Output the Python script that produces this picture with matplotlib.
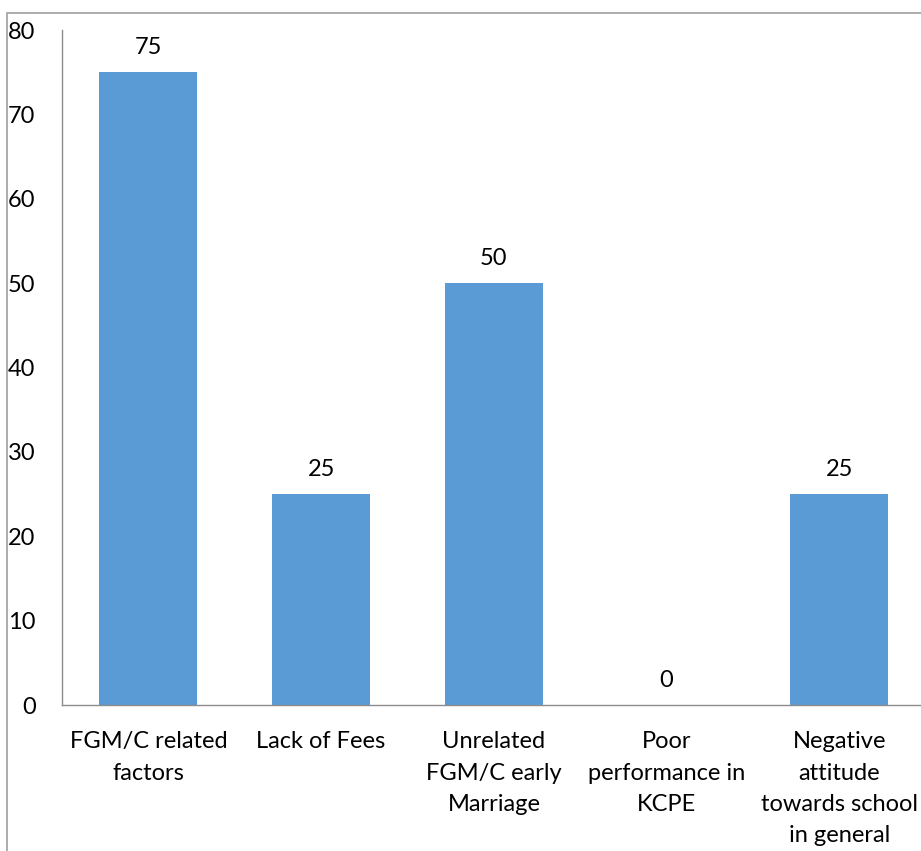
import matplotlib.pyplot as plt
from matplotlib.patches import Rectangle

# Données
categories = ['FGM/C related\nfactors', 'Lack of Fees', 'Unrelated\nFGM/C early\nMarriage',
              'Poor\nperformance in\nKCPE', 'Negative\nattitude\ntowards school\nin general']
valeurs = [75, 25, 50, 0, 25]
yticks = [0, 10, 20, 30, 40, 50, 60, 70, 80]

plt.rcParams['font.family'] = ['Lato', 'DejaVu Sans']

fig = plt.figure(figsize=(9.21, 8.51), dpi=100)
W, H = 921, 851
ax = fig.add_axes([62 / W, 146 / H, (925.75 - 62) / W, (705 - 30) / H])

x = range(len(valeurs))
bars = ax.bar(x, valeurs, width=0.567, color='#5B9BD5')

for xi, v in zip(x, valeurs):
    ax.annotate(str(v), (xi, v), xytext=(0, 10), textcoords='offset points',
                ha='center', va='bottom', fontsize=17)

ax.set_xlim(-0.5, 4.5)
ax.set_ylim(0, 80)
ax.set_yticks(yticks)
ax.set_yticklabels([str(t) for t in yticks], fontsize=17)
ax.set_xticks(list(x))
ax.set_xticklabels(categories, fontsize=17, linespacing=1.6, va='top')
ax.tick_params(axis='both', length=0)
ax.tick_params(axis='y', pad=19)
ax.tick_params(axis='x', pad=19)

for s in ['top', 'right']:
    ax.spines[s].set_visible(False)
for s in ['left', 'bottom']:
    ax.spines[s].set_color('#8C8C8C')
    ax.spines[s].set_linewidth(1.0)

# Cadre du graphique
cadre = Rectangle((7 / W, -0.1), 1.2, 1 - 13 / H + 0.1, transform=fig.transFigure,
                  fill=False, edgecolor='#A6A6A6', linewidth=1.3, clip_on=False)
fig.patches.append(cadre)

fig.savefig('out.png', dpi=100)
